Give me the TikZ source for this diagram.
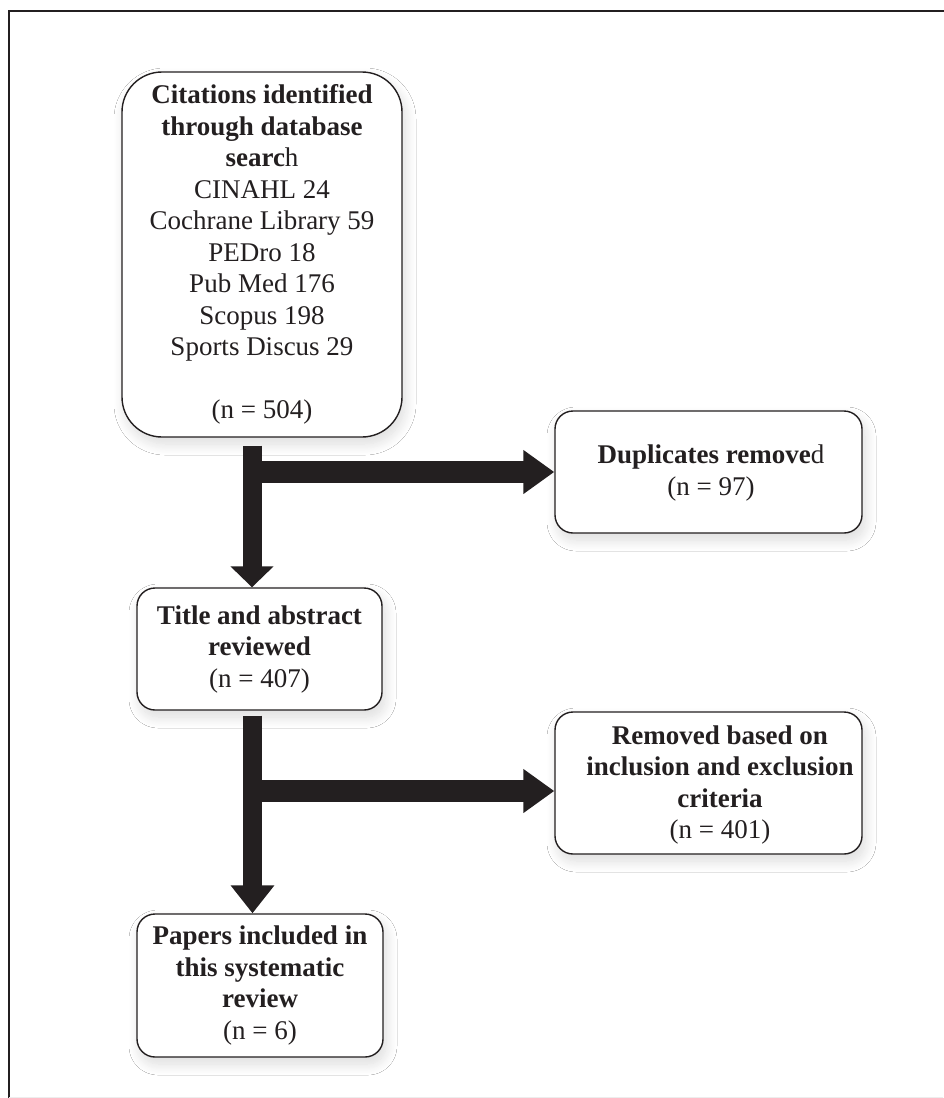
\documentclass[tikz,border=0pt]{standalone}
\usepackage{fontspec}
\setmainfont{Liberation Serif}
\usetikzlibrary{arrows.meta,calc,shadows.blur}
\definecolor{ink}{HTML}{231F20}
\begin{document}
\begin{tikzpicture}[x=1pt,y=-1pt,
  box/.style={draw=ink, line width=1.4pt, rounded corners=18pt, fill=white,
    align=center, inner sep=0pt, text=ink,
    font=\fontsize{27}{31.5}\selectfont,
    blur shadow={shadow xshift=3pt, shadow yshift=-7pt, shadow blur radius=11pt, shadow blur steps=16, shadow opacity=14}},
  txt/.style={align=center, inner sep=0pt, text=ink, font=\fontsize{27}{31.5}\selectfont},
  flowv/.style={draw=ink, line width=19pt},
  flowh/.style={draw=ink, line width=22pt},
]
\useasboundingbox (0,0) rectangle (943,1098);
\fill[white] (0,0) rectangle (943,1098);
% frame
\draw[ink, line width=2.5pt] (9,1100) -- (9,11) -- (946,11);
\draw[black!7, line width=1pt] (9,1097.5) -- (943,1097.5);

% boxes
\node[box, rounded corners=40pt, minimum width=280pt, minimum height=365pt] (b1) at (262,254.5)
  {\textbf{Citations identified}\\ \textbf{through database}\\ \textbf{searc}h\\ CINAHL 24\\ Cochrane Library 59\\ PEDro 18\\ Pub Med 176\\ Scopus 198\\ Sports Discus 29\\[31.5pt] (n = 504)};
\node[box, minimum width=307pt, minimum height=122pt] (b2) at (708.5,472) {};
\node[txt] (b2t) at (711,473) {\textbf{Duplicates remove}d\\ (n = 97)};
\node[box, minimum width=245pt, minimum height=122pt] (b3) at (259.5,649)
  {\textbf{Title and abstract}\\ \textbf{reviewed}\\ (n = 407)};
\node[box, minimum width=307pt, minimum height=142pt] (b4) at (708.5,783) {};
\node[txt] (b4t) at (720,785) {\textbf{Removed based on}\\ \textbf{inclusion and exclusion}\\ \textbf{criteria}\\ (n = 401)};
\node[box, minimum width=246pt, minimum height=143pt] (b5) at (260,985.5)
  {\textbf{Papers included in}\\ \textbf{this systematic}\\ \textbf{review}\\ (n = 6)};

% connectors
\coordinate (s1) at ($(b1.south)+(-10,8)$);
\coordinate (s2) at ($(b3.south)+(-7,5)$);
\coordinate (h2) at ($(b4.west)+(0,8)$);
\draw[flowh, -{Triangle[width=42pt,length=31pt]}] ($(s1 |- b2.west)+(-2,0)$) -- (b2.west);
\draw[flowv, -{Triangle[width=42pt,length=21pt]}] (s1) -- (s1 |- b3.north);
\draw[flowh, -{Triangle[width=42pt,length=31pt]}] ($(s2 |- h2)+(-2,0)$) -- (b4.west |- h2);
\draw[flowv, -{Triangle[width=42pt,length=28pt]}] (s2) -- (s2 |- b5.north);
\end{tikzpicture}
\end{document}
